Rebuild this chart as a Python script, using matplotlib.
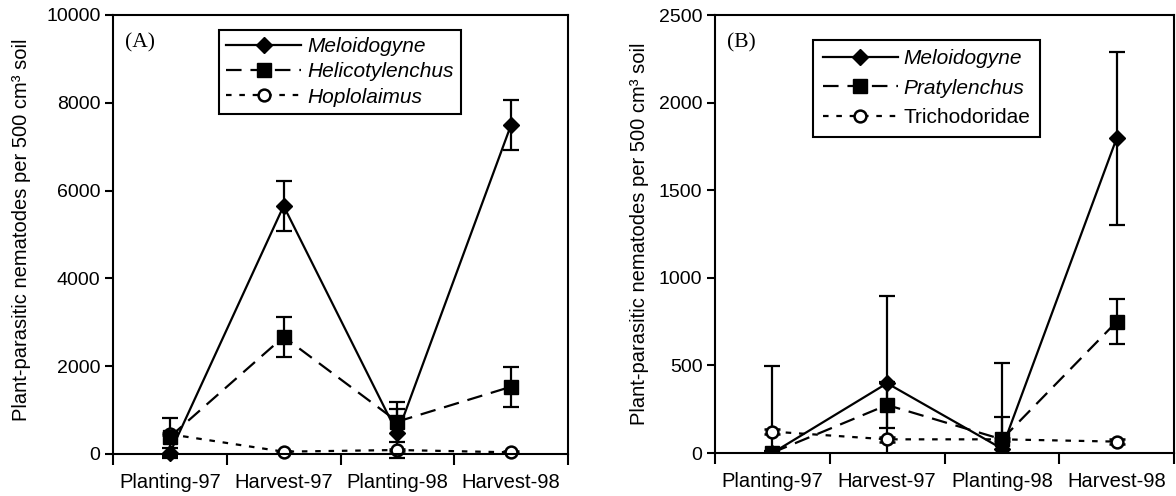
import matplotlib.pyplot as plt
from matplotlib.lines import Line2D

plt.rcParams['font.family'] = ['Liberation Sans', 'DejaVu Sans']

stages = ["Planting-97", "Harvest-97", "Planting-98", "Harvest-98"]
xpos = [1, 2, 3, 4]

# panel A
melo_a = [20, 5650, 470, 7500]
melo_a_err = [110, 560, 550, 570]
heli_a = [390, 2670, 737, 1533]
heli_a_err = [430, 455, 455, 455]
hoplo_a = [450, 53, 91, 38]
hoplo_a_err = [20, 20, 30, 20]

# panel B
melo_b = [0, 398, 25, 1796]
melo_b_err = [495, 500, 490, 495]
praty_b = [2, 274, 78, 749]
praty_b_err = [10, 130, 129, 128]
tricho_b = [122, 78, 78, 65]
tricho_b_err = [15, 15, 10, 15]

ylab = "Plant-parasitic nematodes per 500 cm\u00b3 soil"

styles = {
    "solid": dict(marker="D", ms=8.5, mfc="black", mec="black", ls="-"),
    "dash": dict(marker="s", ms=10, mfc="black", mec="black", ls=(0, (7, 4))),
    "dot": dict(marker="o", ms=8.5, mfc="white", mec="black", mew=1.8, ls=(0, (2.5, 3.5))),
}


def draw_series(ax, y, err, style, clip):
    line = ax.errorbar(xpos, y, yerr=err, color="black", lw=1.6, elinewidth=1.6,
                       capsize=5.5, capthick=1.6, **styles[style])
    for art in line.lines[1] + line.lines[2]:
        art.set_clip_on(clip)
    line.lines[0].set_clip_on(clip)


def add_legend(ax, names, anchor, spacing, pad):
    handles = [Line2D([], [], color="black", lw=1.6, **styles[s])
               for s in ["solid", "dash", "dot"]]
    leg = ax.legend(handles, names, loc="upper left", bbox_to_anchor=anchor,
                    fontsize=15, handlelength=3.6, handletextpad=0.3,
                    labelspacing=spacing, borderpad=pad, borderaxespad=0,
                    fancybox=False, edgecolor="black", framealpha=1)
    leg.get_frame().set_linewidth(1.5)
    return leg


def setup(ax, ymax, ystep, tag, lab_x, lab_y):
    ax.set_xlim(0.5, 4.5)
    ax.set_ylim(0, ymax)
    ax.set_yticks(range(0, ymax + 1, ystep))
    ax.set_xticks(xpos)
    ax.set_xticklabels(stages, fontsize=14.5)
    ax.set_xticks([0.5, 1.5, 2.5, 3.5, 4.5], minor=True)
    ax.tick_params(axis="x", which="major", length=0, pad=14)
    ax.tick_params(axis="x", which="minor", length=8, width=1.5, direction="out")
    ax.tick_params(axis="y", length=6, width=1.5, direction="out", labelsize=14, pad=3)
    for s in ax.spines.values():
        s.set_linewidth(1.5)
    ax.set_ylabel(ylab, fontsize=14.5)
    ax.yaxis.set_label_coords(lab_x, lab_y)
    ax.text(0.027, 0.936, tag, transform=ax.transAxes, fontsize=15.5,
            family="Liberation Serif", va="center", ha="left")


fig = plt.figure(figsize=(11.76, 4.96), dpi=100)
axA = fig.add_axes([113 / 1176, 42 / 496, 455 / 1176, 439 / 496])
axB = fig.add_axes([715 / 1176, 43 / 496, 459 / 1176, 438 / 496])

draw_series(axA, hoplo_a, hoplo_a_err, "dot", False)
draw_series(axA, heli_a, heli_a_err, "dash", False)
draw_series(axA, melo_a, melo_a_err, "solid", False)
setup(axA, 10000, 2000, "(A)", -0.18, 0.51)
legA = add_legend(axA, ["Meloidogyne", "Helicotylenchus", "Hoplolaimus"],
                  (0.233, 0.966), 0.3, 0.35)
for t in legA.get_texts():
    t.set_style("italic")

draw_series(axB, tricho_b, tricho_b_err, "dot", True)
draw_series(axB, praty_b, praty_b_err, "dash", True)
draw_series(axB, melo_b, melo_b_err, "solid", True)
setup(axB, 2500, 500, "(B)", -0.144, 0.5)
legB = add_legend(axB, ["Meloidogyne", "Pratylenchus", "Trichodoridae"],
                  (0.214, 0.943), 0.5, 0.45)
for t in legB.get_texts()[:2]:
    t.set_style("italic")

fig.savefig("out.png", dpi=100)
